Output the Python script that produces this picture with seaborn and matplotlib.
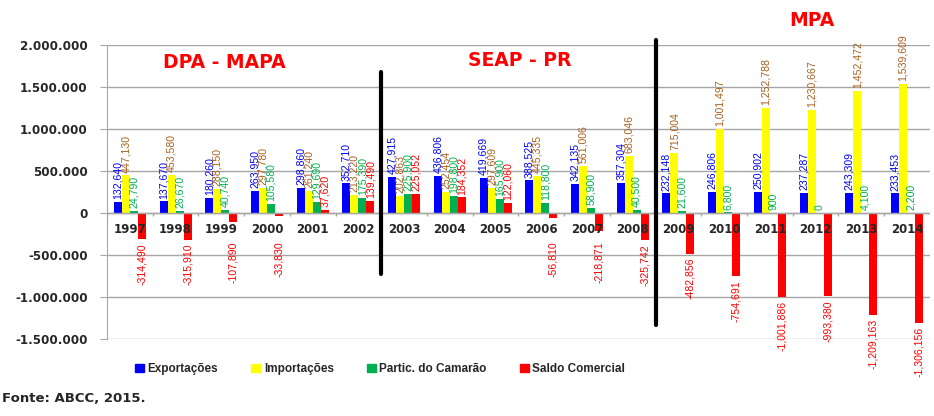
import numpy as np
import pandas as pd
import matplotlib
matplotlib.use("Agg")
import matplotlib.pyplot as plt
import seaborn as sns

years = ["1997", "1998", "1999", "2000", "2001", "2002", "2003", "2004", "2005",
         "2006", "2007", "2008", "2009", "2010", "2011", "2012", "2013", "2014"]
exportacoes = [132640, 137670, 180260, 263950, 298860, 352710, 427915, 436806, 419669,
               388525, 342135, 357304, 232148, 246806, 250902, 237287, 243309, 233453]
importacoes = [447130, 453580, 288150, 297780, 261240, 213220, 202863, 252454, 297609,
               445335, 561006, 683046, 715004, 1001497, 1252788, 1230667, 1452472, 1539609]
camarao = [24790, 26670, 40740, 105580, 129690, 175390, 225900, 198800, 165900,
           118800, 58900, 40500, 21600, 6800, 900, 0, 4100, 2200]
saldo = [-314490, -315910, -107890, -33830, 37620, 139490, 225052, 184352, 122060,
         -56810, -218871, -325742, -482856, -754691, -1001886, -993380, -1209163, -1306156]
series_names = ["Exportações", "Importações", "Partic. do Camarão", "Saldo Comercial"]
y_ticks = [-1500000, -1000000, -500000, 0, 500000, 1000000, 1500000, 2000000]

bar_colors = ["#0000FF", "#FFFF00", "#00B050", "#FF0000"]
label_colors = ["#0000FF", "#A8601E", "#00B050", "#FF0000"]

rows = []
for name, vals in zip(series_names, [exportacoes, importacoes, camarao, saldo]):
    for y, v in zip(years, vals):
        rows.append({"Ano": y, "Serie": name, "Valor": v})
df = pd.DataFrame(rows)

sns.set_style("white")
fig = plt.figure(figsize=(9.34, 4.16), dpi=100)
ax = fig.add_axes([0.1146, 0.185, 0.881, 0.7072])

sns.barplot(data=df, x="Ano", y="Valor", hue="Serie", hue_order=series_names,
            palette=bar_colors, width=0.7, saturation=1, ax=ax, legend=True,
            edgecolor="none", linewidth=0)

ax.set_ylim(-1500000, 2000000)
ax.set_xlim(-0.5, len(years) - 0.5)
ax.set_yticks(y_ticks)
ax.set_yticklabels([f"{t:,}".replace(",", ".") for t in y_ticks],
                   fontsize=8.6, fontweight="bold", family="DejaVu Sans")
ax.set_xticks([])
ax.set_xlabel("")
ax.set_ylabel("")
ax.grid(axis="y", color="#A6A6A6", linewidth=1)
ax.set_axisbelow(True)
for s in ["top", "right", "bottom"]:
    ax.spines[s].set_visible(False)
ax.spines["left"].set_color("#A6A6A6")
ax.tick_params(axis="y", length=5, color="#A6A6A6", pad=9, left=True)

# category axis at zero
ax.axhline(0, color="#A6A6A6", linewidth=1, zorder=1)
ax.vlines(np.arange(-0.5, len(years)), -40000, 0, color="#A6A6A6", linewidth=1)
for i, y in enumerate(years):
    ax.text(i, -195000, y, ha="center", va="center", fontsize=8.5,
            fontweight="bold", zorder=5, family="DejaVu Sans")

narrow = ["Liberation Sans Narrow", "Liberation Sans"]
for cont, col in zip(ax.containers, label_colors):
    for b in cont:
        v = b.get_height()
        xc = b.get_x() + b.get_width() / 2
        txt = f"{v:,.0f}"
        if v >= 0:
            ax.annotate(txt, (xc, v), xytext=(0, 2), textcoords="offset points",
                        rotation=90, ha="center", va="bottom", color=col,
                        fontsize=7.6, family=narrow)
        else:
            # negative labels are kept clear of the year labels
            ax.annotate(txt, (xc, min(v, -290000)), xytext=(0, -3),
                        textcoords="offset points", rotation=90, ha="center",
                        va="top", color=col, fontsize=7.6, family=narrow)

leg = ax.get_legend()
if leg is not None:
    leg.remove()
handles = [plt.Rectangle((0, 0), 1, 1, color=c) for c in bar_colors]
fig.legend(handles, series_names, loc="center", bbox_to_anchor=(0.407, 0.113),
           ncol=4, frameon=False, handlelength=0.75, handleheight=0.75,
           handletextpad=0.3, columnspacing=2.8,
           prop={"weight": "bold", "size": 8.5, "family": "Liberation Sans"})

# period separators
ax.plot([5.5, 5.5], [1680000, -726000], color="black", linewidth=3, clip_on=False, zorder=6)
ax.plot([11.5, 11.5], [2060000, -1333000], color="black", linewidth=3, clip_on=False, zorder=6)

title_kw = dict(color="red", fontsize=13.5, fontweight="bold", ha="center",
                va="center", family="DejaVu Sans")
fig.text(224 / 934, 1 - 62 / 416, "DPA - MAPA", **title_kw)
fig.text(520 / 934, 1 - 60 / 416, "SEAP - PR", **title_kw)
fig.text(812 / 934, 1 - 20 / 416, "MPA", **title_kw)
fig.text(0.002, 1 - 398 / 416, "Fonte: ABCC, 2015.", fontsize=9.5,
         fontweight="bold", ha="left", va="center", family="DejaVu Sans")

fig.savefig("out.png", dpi=100)
